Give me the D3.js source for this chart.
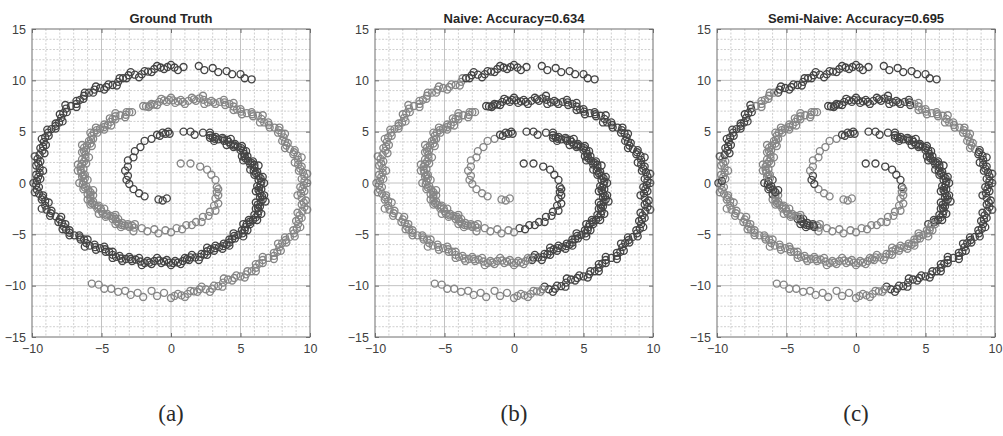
<!DOCTYPE html>
<html>
<head>
<meta charset="utf-8">
<script src="https://cdn.jsdelivr.net/npm/d3@7"></script>
<style>
  body { margin: 0; background: #fff; }
  svg { display: block; }
</style>
</head>
<body>
<svg id="chart" width="1003" height="436"></svg>
<script>
// points of the first spiral (inner end -> outer end)
const darkSpiral = [
  [-0.3,-1.5],[-0.6,-1.7],[-0.9,-1.6],[-1.9,-1.3],[-2.3,-1.0],[-2.7,-0.6],[-3.0,-0.1],
  [-3.2,0.3],[-3.1,0.7],[-3.3,1.2],[-3.1,1.6],[-3.1,2.2],[-2.7,2.5],[-2.6,3.1],[-2.2,3.5],[-1.9,4.1],[-1.4,4.3],
  [-1.0,4.7],[-0.8,4.6],[-0.6,4.9],[-0.4,4.8],[-0.2,5.0],[-0.1,4.8],
  [0.9,5.0],[1.4,5.0],[1.7,4.7],[2.3,4.9],
  [2.8,4.9],[2.8,4.4],[3.2,4.5],[3.1,4.1],[3.7,4.4],[3.8,4.1],[4.3,4.3],[4.0,3.7],[4.6,3.8],[4.5,3.5],[5.1,3.6],[5.0,3.2],
  [5.4,3.1],[5.1,2.6],[5.5,2.6],[5.2,2.2],[5.9,2.1],[5.7,1.8],[6.3,1.7],[5.7,1.3],[6.2,1.1],[6.0,0.8],[6.6,0.6],[6.3,0.3],
  [6.7,0],[6.2,-0.3],[6.5,-0.6],[6.1,-0.8],[6.7,-1.2],[6.4,-1.4],[6.8,-1.8],[6.1,-1.9],[6.4,-2.3],[6.1,-2.5],[6.5,-3.0],[6.0,-3.1],
  [6.2,-3.6],[5.6,-3.6],[5.7,-4.0],[5.2,-4.0],[5.5,-4.6],[5.1,-4.6],[5.2,-5.2],[4.5,-4.9],[4.6,-5.4],[4.2,-5.5],[4.2,-6.1],[3.8,-5.9],
  [3.7,-6.4],[3.2,-6.1],[3.1,-6.6],[2.6,-6.3],[2.6,-7.0],[2.2,-6.9],[2.0,-7.5],[1.5,-7.0],[1.3,-7.5],[1.0,-7.3],[0.7,-7.9],[0.3,-7.6],
  [0,-8.0],[-0.3,-7.5],[-0.7,-7.8],[-1.0,-7.3],[-1.4,-7.9],[-1.7,-7.6],[-2.1,-8.0],[-2.3,-7.3],[-2.8,-7.6],[-3.0,-7.2],[-3.5,-7.6],[-3.7,-7.1],
  [-4.2,-7.3],[-4.2,-6.7],[-4.7,-6.7],[-4.8,-6.2],[-5.4,-6.5],[-5.5,-6.0],[-6.2,-6.2],[-6.0,-5.5],[-6.5,-5.5],[-6.6,-5.1],[-7.3,-5.1],[-7.3,-4.6],
  [-7.8,-4.5],[-7.6,-4.0],[-8.1,-3.8],[-7.9,-3.3],[-8.7,-3.2],[-8.6,-2.7],[-9.3,-2.5],[-8.8,-1.9],[-9.3,-1.6],[-9.2,-1.2],[-9.8,-0.9],[-9.5,-0.4],
  [-9.9,0],[-9.4,0.4],[-9.7,0.8],[-9.2,1.2],[-9.7,1.7],[-9.4,2.1],[-9.8,2.6],[-9.1,2.9],[-9.4,3.4],[-9.0,3.7],[-9.3,4.3],[-8.8,4.6],
  [-8.9,5.2],[-8.3,5.3],[-8.3,5.8],[-7.8,6.0],[-8.0,6.7],[-7.5,6.9],[-7.6,7.6],[-6.8,7.4],[-6.8,8.0],[-6.3,8.2],[-6.2,8.8],[-5.6,8.8],
  [-5.4,9.4],[-4.8,9.1],[-4.5,9.6],[-3.9,9.5],[-3.7,10.2],[-3.2,10.2],[-2.9,10.8],[-2.3,10.3],[-1.9,10.9],[-1.4,10.8],[-1.0,11.4],[-0.5,11.1],
  [0,11.5],[0.5,11.0],[0.9,11.3],
  [2.0,11.4],[2.4,11.0],[3.0,11.2],[3.4,10.8],[4.0,10.9],[4.4,10.6],[5.0,10.6],[5.3,10.2],[5.8,10.1]
];

// further circles packed along the middle of the first spiral's band (outer turns)
const darkFill = [
  [2.8,4.65],[3.0,4.45],[3.15,4.3],[3.4,4.25],[3.75,4.25],[4.05,4.2],[4.15,4.0],[4.3,3.75],[4.55,3.65],[4.8,3.55],[5.05,3.4],[5.2,3.15],
  [5.25,2.85],[5.3,2.6],[5.35,2.4],[5.55,2.15],[5.8,1.95],[6.0,1.75],[6.0,1.5],[5.95,1.2],[6.1,0.95],[6.3,0.7],[6.45,0.45],[6.5,0.15],
  [6.45,-0.15],[6.35,-0.45],[6.3,-0.7],[6.4,-1.0],[6.55,-1.3],[6.6,-1.6],[6.45,-1.85],[6.25,-2.1],[6.25,-2.4],[6.3,-2.75],[6.25,-3.05],[6.1,-3.35],
  [5.9,-3.6],[5.65,-3.8],[5.45,-4.0],[5.35,-4.3],[5.3,-4.6],[5.15,-4.9],[4.85,-5.05],[4.55,-5.15],[4.4,-5.45],[4.2,-5.8],[4.0,-6.0],[3.75,-6.15],
  [3.45,-6.25],[3.15,-6.35],[2.85,-6.45],[2.6,-6.65],[2.4,-6.95],[2.1,-7.2],[1.75,-7.25],[1.4,-7.25],[1.15,-7.4],[0.85,-7.6],[0.5,-7.75],
  [0.15,-7.8],[-0.15,-7.75],[-0.5,-7.65],[-0.85,-7.55],[-1.2,-7.6],[-1.55,-7.75],[-1.9,-7.8],[-2.2,-7.65],[-2.55,-7.45],[-2.9,-7.4],[-3.25,-7.4],[-3.6,-7.35],
  [-3.95,-7.2],[-4.2,-7.0],[-4.45,-6.7],[-4.75,-6.45],[-5.1,-6.35],[-5.45,-6.25],[-5.85,-6.1],[-6.1,-5.85],[-6.25,-5.5],[-6.55,-5.3],[-6.95,-5.1],[-7.3,-4.85],
  [-7.55,-4.55],[-7.7,-4.25],[-7.85,-3.9],[-8.0,-3.55],[-8.3,-3.25],[-8.65,-2.95],[-8.95,-2.6],[-9.05,-2.2],[-9.05,-1.75],[-9.25,-1.4],[-9.5,-1.05],[-9.65,-0.65],
  [-9.7,-0.2],[-9.65,0.2],[-9.55,0.6],[-9.45,1.0],[-9.45,1.45],[-9.55,1.9],[-9.6,2.35],[-9.45,2.75],[-9.25,3.15],[-9.2,3.55],[-9.15,4.0],[-9.05,4.45],
  [-8.85,4.9],[-8.6,5.25],[-8.3,5.55],[-8.05,5.9],[-7.9,6.35],[-7.75,6.8],[-7.55,7.25],[-7.2,7.5],[-6.8,7.7],[-6.55,8.1],[-6.25,8.5],[-5.9,8.8],
  [-5.5,9.1],[-5.1,9.25],[-4.65,9.35],[-4.2,9.55],[-3.8,9.85],[-3.45,10.2],[-3.05,10.5],[-2.6,10.55],[-2.1,10.6],[-1.65,10.85],[-1.2,11.1],[-0.75,11.25],
  [-0.25,11.3],[0.25,11.25]
];

// points of the second spiral (inner end -> outer end)
const lightSpiral = [
  [0.7,1.9],[1.4,1.9],[2.1,1.6],[2.6,1.3],[2.9,0.8],[3.2,0.3],[3.3,-0.4],
  [3.4,-0.6],[3.3,-0.9],[3.4,-1.2],[3.2,-1.5],[3.4,-2.0],[3.1,-2.2],[3.2,-2.7],[2.8,-2.8],[2.7,-3.2],[2.3,-3.3],[2.2,-3.8],
  [1.8,-3.8],[1.5,-4.1],[1.1,-4.1],[0.8,-4.5],[0.4,-4.4],[0.0,-4.8],[-0.4,-4.6],[-0.9,-4.9],[-1.2,-4.5],[-1.7,-4.7],[-2.1,-4.4],
  [-2.7,-4.7],[-2.6,-4.0],[-3.0,-4.3],[-3.1,-4.0],[-3.6,-4.3],[-3.5,-3.9],[-4.0,-4.0],[-3.8,-3.5],[-4.2,-3.5],[-4.0,-3.1],[-4.7,-3.3],[-4.6,-3.0],
  [-5.2,-3.0],[-4.8,-2.5],[-5.3,-2.5],[-5.2,-2.2],[-5.8,-2.1],[-5.6,-1.8],[-6.0,-1.6],[-5.6,-1.2],[-6.0,-1.1],[-5.6,-0.7],[-6.3,-0.6],[-6.1,-0.3],
  [-6.6,0],[-6.0,0.3],[-6.4,0.6],[-6.2,0.8],[-6.7,1.2],[-6.3,1.4],[-6.7,1.8],[-6.1,1.9],[-6.4,2.3],[-5.9,2.5],[-6.4,3.0],[-6.1,3.2],[-6.4,3.7],[-5.7,3.6],
  [-5.9,4.1],[-5.6,4.3],[-5.8,4.9],[-5.3,4.9],[-5.4,5.4],[-4.8,5.2],[-4.8,5.7],[-4.3,5.6],[-4.4,6.3],[-4.0,6.2],[-4.0,6.8],[-3.3,6.4],[-3.2,6.9],[-2.8,6.9],
  [-2.0,7.5],[-1.6,7.4],[-1.4,7.7],[-1.0,7.6],[-0.7,8.2],[-0.3,7.9],
  [0,8.3],[0.3,7.8],[0.7,8.1],[1.0,7.7],[1.5,8.3],[1.8,8.0],[2.3,8.5],[2.4,7.7],[2.9,8.0],[3.2,7.7],[3.8,8.1],[3.9,7.6],
  [4.5,7.8],[4.5,7.1],[5.0,7.2],[5.1,6.7],[5.8,6.9],[5.9,6.5],[6.6,6.6],[6.4,5.9],[7.0,5.9],[7.1,5.4],[7.8,5.4],[7.7,4.9],
  [8.2,4.8],[8.0,4.1],[8.4,3.9],[8.2,3.4],[8.9,3.2],[8.8,2.8],[9.4,2.5],[8.9,2.0],[9.4,1.6],[9.2,1.2],[9.8,0.9],[9.4,0.4],
  [9.8,0],[9.3,-0.4],[9.6,-0.8],[9.1,-1.2],[9.7,-1.7],[9.4,-2.1],[9.8,-2.6],[9.1,-2.9],[9.4,-3.4],[9.0,-3.7],[9.3,-4.3],[8.8,-4.6],
  [8.9,-5.2],[8.2,-5.3],[8.3,-5.8],[7.7,-5.9],[7.9,-6.6],[7.4,-6.8],[7.4,-7.4],[6.6,-7.2],[6.6,-7.8],[6.1,-7.9],[6.1,-8.6],[5.5,-8.6],
  [5.3,-9.2],[4.7,-9.0],[4.4,-9.5],[3.8,-9.3],[3.7,-10.1],[3.1,-10.0],[2.8,-10.6],[2.2,-10.1],[1.9,-10.6],[1.4,-10.5],[1.0,-11.1],[0.5,-10.8],
  [0,-11.2],[-0.5,-10.7],[-1.0,-11.0],[-1.4,-10.5],[-2.0,-11.1],[-2.4,-10.7],[-2.9,-10.9],[-3.3,-10.5],[-3.8,-10.6],[-4.3,-10.3],
  [-4.8,-10.3],[-5.2,-9.9],[-5.7,-9.8]
];

// further circles packed along the middle of the second spiral's band
const lightFill = [
  [-2.65,-4.35],[-2.8,-4.15],[-3.05,-4.15],[-3.35,-4.15],[-3.55,-4.1],[-3.75,-3.95],[-3.9,-3.75],[-4.0,-3.5],[-4.1,-3.3],[-4.35,-3.2],
  [-4.65,-3.15],[-4.9,-3.0],[-5.0,-2.75],[-5.05,-2.5],[-5.25,-2.35],[-5.5,-2.15],[-5.7,-1.95],[-5.8,-1.7],[-5.8,-1.4],[-5.8,-1.15],
  [-5.8,-0.9],[-5.95,-0.65],[-6.2,-0.45],[-6.35,-0.15],[-6.3,0.15],[-6.2,0.45],[-6.3,0.7],[-6.45,1.0],[-6.5,1.3],[-6.5,1.6],
  [-6.4,1.85],[-6.25,2.1],[-6.15,2.4],[-6.15,2.75],[-6.25,3.1],[-6.25,3.45],[-6.05,3.65],[-5.8,3.85],[-5.75,4.2],[-5.7,4.6],
  [-5.55,4.9],[-5.35,5.15],[-5.1,5.3],[-4.8,5.45],[-4.55,5.65],[-4.35,5.95],[-4.2,6.25],[-4.0,6.5],[-3.65,6.6],[-3.25,6.65],[-3.0,6.9],
  [-1.8,7.45],[-1.5,7.55],[-1.2,7.65],[-0.85,7.9],[-0.5,8.05],[-0.15,8.1],[0.15,8.05],[0.5,7.95],[0.85,7.9],[1.25,8.0],
  [1.65,8.15],[2.05,8.25],[2.35,8.1],[2.65,7.85],[3.05,7.85],[3.5,7.9],[3.85,7.85],[4.2,7.7],[4.5,7.45],[4.75,7.15],
  [5.05,6.95],[5.45,6.8],[5.85,6.7],[6.25,6.55],[6.5,6.25],[6.7,5.9],[7.05,5.65],[7.45,5.4],[7.75,5.15],[7.95,4.85],
  [8.1,4.45],[8.2,4.0],[8.3,3.65],[8.55,3.3],[8.85,3.0],[9.1,2.65],[9.15,2.25],[9.15,1.8],[9.3,1.4],[9.5,1.05],
  [9.6,0.65],[9.6,0.2],[9.55,-0.2],[9.45,-0.6],[9.35,-1.0],[9.4,-1.45],[9.55,-1.9],[9.6,-2.35],[9.45,-2.75],[9.25,-3.15],
  [9.2,-3.55],[9.15,-4.0],[9.05,-4.45],[8.85,-4.9],[8.55,-5.25],[8.25,-5.55],[8.0,-5.85],[7.8,-6.25],[7.65,-6.7],[7.4,-7.1],
  [7.0,-7.3],[6.6,-7.5],[6.35,-7.85],[6.1,-8.25],[5.8,-8.6],[5.4,-8.9],[5.0,-9.1],[4.55,-9.25],[4.1,-9.4],[3.75,-9.7],
  [3.4,-10.05],[2.95,-10.3],[2.5,-10.35],[2.05,-10.35],[1.65,-10.55],[1.2,-10.8],[0.75,-10.95],[0.25,-11.0]
];

const panelTitles = ["Ground Truth", "Naive: Accuracy=0.634", "Semi-Naive: Accuracy=0.695"];
const panelTags = ["(a)", "(b)", "(c)"];
const xTicks = [-10, -5, 0, 5, 10];
const yTicks = [-15, -10, -5, 0, 5, 10, 15];

// predicted class per point, as runs of [count, class] along each list (1 = dark, 2 = light)
const darkRuns = [
  [[171, 1]],
  [[17, 2], [67, 1], [68, 2], [19, 1]],
  [[6, 2], [3, 1], [8, 2], [48, 1], [1, 2], [1, 1], [56, 2], [1, 1], [5, 2], [13, 1], [4, 2], [25, 1]]
];
const darkFillRuns = [
  [[133, 1]],
  [[56, 1], [68, 2], [9, 1]],
  [[38, 1], [58, 2], [1, 1], [5, 2], [12, 1], [5, 2], [14, 1]]
];
const lightRuns = [
  [[172, 2]],
  [[23, 1], [58, 2], [74, 1], [17, 2]],
  [[7, 1], [22, 2], [2, 2], [7, 1], [11, 2], [6, 1], [26, 2], [18, 1], [16, 2], [40, 1], [17, 2]]
];
const lightFillRuns = [
  [[129, 2]],
  [[51, 2], [73, 1], [5, 2]],
  [[2, 2], [6, 1], [12, 2], [5, 1], [26, 2], [17, 1], [17, 2], [39, 1], [5, 2]]
];

const svg = d3.select("#chart");
const panelLeft = [32, 375, 717];
const plotW = 278, plotTop = 29, plotH = 308;
const classColor = { 1: "#454545", 2: "#868686" };

function expandRuns(runs) {
  const out = [];
  runs.forEach(([n, c]) => { for (let i = 0; i < n; i++) out.push(c); });
  return out;
}

function labelled(list, runs) {
  const lab = expandRuns(runs);
  return list.map((d, i) => ({ x: d[0], y: d[1], c: lab[i] }));
}

panelTitles.forEach((title, p) => {
  const x = d3.scaleLinear().domain([-10, 10]).range([panelLeft[p], panelLeft[p] + plotW]);
  const y = d3.scaleLinear().domain([-15, 15]).range([plotTop + plotH, plotTop]);
  const g = svg.append("g");

  // minor grid, every unit
  const minorX = d3.range(-9, 10).filter(v => v % 5 !== 0);
  const minorY = d3.range(-14, 15).filter(v => v % 5 !== 0);
  g.append("g").selectAll("line").data(minorX).join("line")
    .attr("x1", d => x(d)).attr("x2", d => x(d))
    .attr("y1", plotTop).attr("y2", plotTop + plotH)
    .attr("stroke", "#cfcfcf").attr("stroke-width", 1).attr("stroke-dasharray", "2,1.5");
  g.append("g").selectAll("line").data(minorY).join("line")
    .attr("x1", x(-10)).attr("x2", x(10))
    .attr("y1", d => y(d)).attr("y2", d => y(d))
    .attr("stroke", "#cfcfcf").attr("stroke-width", 1).attr("stroke-dasharray", "2,1.5");

  // major grid
  g.append("g").selectAll("line").data(xTicks.slice(1, -1)).join("line")
    .attr("x1", d => x(d)).attr("x2", d => x(d))
    .attr("y1", plotTop).attr("y2", plotTop + plotH)
    .attr("stroke", "#c2c2c2").attr("stroke-width", 1);
  g.append("g").selectAll("line").data(yTicks.slice(1, -1)).join("line")
    .attr("x1", x(-10)).attr("x2", x(10))
    .attr("y1", d => y(d)).attr("y2", d => y(d))
    .attr("stroke", "#c2c2c2").attr("stroke-width", 1);

  // axes with inward ticks
  const axisStyle = sel => {
    sel.select(".domain").remove();
    sel.selectAll(".tick line").attr("stroke", "#6e6e6e");
    sel.selectAll(".tick text")
      .attr("fill", "#404040")
      .style("font-family", "'Liberation Sans', Arial, sans-serif")
      .style("font-size", "12.5px");
  };
  g.append("g").attr("transform", `translate(0,${plotTop + plotH})`)
    .call(d3.axisBottom(x).tickValues(xTicks).tickSize(-4).tickPadding(7).tickFormat(d3.format("d")))
    .call(axisStyle);
  g.append("g").attr("transform", `translate(${x(-10)},0)`)
    .call(d3.axisLeft(y).tickValues(yTicks).tickSize(-4).tickPadding(6).tickFormat(d3.format("d")))
    .call(axisStyle);
  g.append("g").attr("transform", `translate(0,${plotTop})`)
    .call(d3.axisTop(x).tickValues(xTicks).tickSize(-4).tickFormat(""))
    .call(axisStyle);
  g.append("g").attr("transform", `translate(${x(10)},0)`)
    .call(d3.axisRight(y).tickValues(yTicks).tickSize(-4).tickFormat(""))
    .call(axisStyle);

  // the two spirals, coloured by the class given in this panel
  const points = labelled(darkSpiral, darkRuns[p])
    .concat(labelled(darkFill, darkFillRuns[p]))
    .concat(labelled(lightSpiral, lightRuns[p]))
    .concat(labelled(lightFill, lightFillRuns[p]));

  g.append("g").selectAll("circle").data(points).join("circle")
    .attr("cx", d => x(d.x))
    .attr("cy", d => y(d.y))
    .attr("r", 3.5)
    .attr("fill", "none")
    .attr("stroke", d => classColor[d.c])
    .attr("stroke-width", 1.35);

  // frame
  g.append("rect")
    .attr("x", x(-10)).attr("y", plotTop)
    .attr("width", plotW).attr("height", plotH)
    .attr("fill", "none").attr("stroke", "#6e6e6e").attr("stroke-width", 1);

  g.append("text")
    .attr("x", x(0)).attr("y", 23)
    .attr("text-anchor", "middle")
    .attr("fill", "#262626")
    .style("font-family", "'Liberation Sans', Arial, sans-serif")
    .style("font-size", "13px")
    .style("font-weight", "bold")
    .text(title);

  g.append("text")
    .attr("x", x(0)).attr("y", 421)
    .attr("text-anchor", "middle")
    .attr("fill", "#2a2a2a")
    .style("font-family", "'Liberation Serif', 'DejaVu Serif', serif")
    .style("font-size", "23px")
    .text(panelTags[p]);
});
</script>
</body>
</html>
